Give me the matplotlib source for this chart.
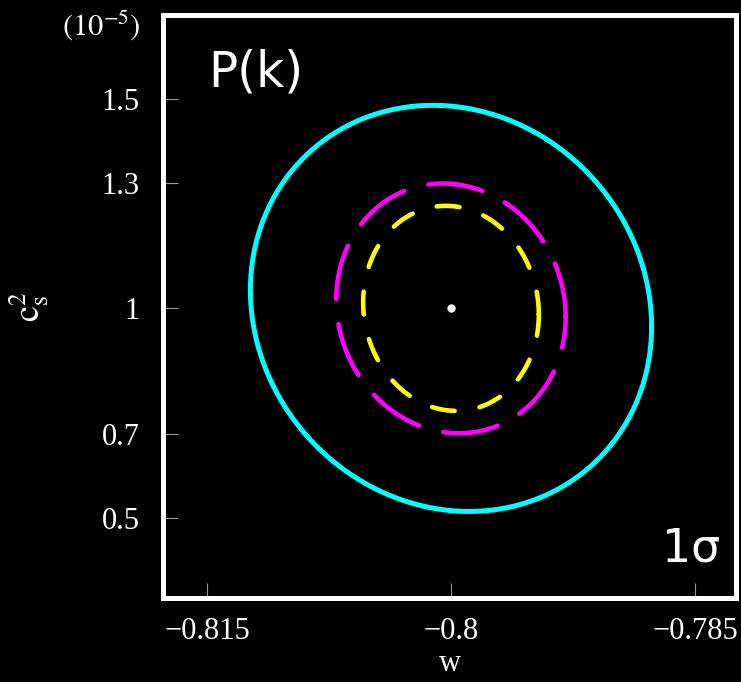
import numpy as np
import matplotlib
matplotlib.use("Agg")
import matplotlib.pyplot as plt

plt.rcParams['font.family'] = ['Liberation Serif', 'DejaVu Serif']
plt.rcParams['mathtext.fontset'] = 'stix'

# Fiducial model and 1-sigma contours (w, c_s^2 in units of 1e-5)
w_fid = -0.8
cs2_fid = 1.0
contour_names = ['wide', 'middle', 'inner']
w_extent = [0.01233, 0.00705, 0.0054]
cs2_extent = [0.4845, 0.298, 0.2446]
corr = [-0.09, -0.07, -0.06]
colors = ['#00ffff', '#ff00ff', '#ffff00']

x_ticks = [-0.815, -0.8, -0.785]
x_tick_labels = ['\u22120.815', '\u22120.8', '\u22120.785']
y_ticks = [0.5, 0.7, 1.0, 1.3, 1.5]
y_tick_labels = ['0.5', '0.7', '1', '1.3', '1.5']

fig = plt.figure(figsize=(7.41, 6.82), dpi=100, facecolor='black')
ax = fig.add_axes([0.2200, 0.1232, 0.7733, 0.8548], facecolor='black')

theta = np.linspace(0, 2 * np.pi, 721)
styles = [
    dict(linestyle='-', lw=3.6),
    dict(dashes=(12.0, 5.5), lw=3.3, dash_capstyle='round'),
    dict(dashes=(5.0, 5.5), lw=3.3, dash_capstyle='round'),
]
for sw, sc, r, col, st in zip(w_extent, cs2_extent, corr, colors, styles):
    x = w_fid + sw * np.cos(theta)
    y = cs2_fid + sc * (r * np.cos(theta) + np.sqrt(1 - r ** 2) * np.sin(theta))
    ax.plot(x, y, color=col, solid_capstyle='round', **st)

ax.plot([w_fid], [cs2_fid], 'o', color='white', markersize=6, markeredgewidth=0)

ax.set_xlim(-0.8177, -0.78248)
ax.set_ylim(0.309, 1.700)

ax.set_xticks(x_ticks)
ax.set_xticklabels(x_tick_labels)
ax.set_yticks(y_ticks)
ax.set_yticklabels(y_tick_labels)
ax.tick_params(direction='in', length=11, width=0.8, color='#9a9a9a',
               labelcolor='white', labelsize=22, pad=17)
ax.tick_params(axis='x', pad=14)

for sp in ax.spines.values():
    sp.set_color('white')
    sp.set_linewidth(3.6)

ax.set_xlabel('w', color='white', fontsize=22, labelpad=2)
ax.set_ylabel(r'$\mathrm{c}_\mathrm{s}^2$', color='white', fontsize=26, labelpad=36)

fig.text(101 / 741, 1 - 26 / 682, r'$(10^{-5})$', color='white', fontsize=22,
         ha='center', va='center')

ax.text(0.162, 0.902, 'P(k)', transform=ax.transAxes, color='white',
        fontsize=35, family='DejaVu Sans', ha='center', va='center')
ax.text(0.922, 0.084, '1\u03c3', transform=ax.transAxes, color='white',
        fontsize=33, family='DejaVu Sans', ha='center', va='center')

fig.savefig('out.png', dpi=100, facecolor='black')
